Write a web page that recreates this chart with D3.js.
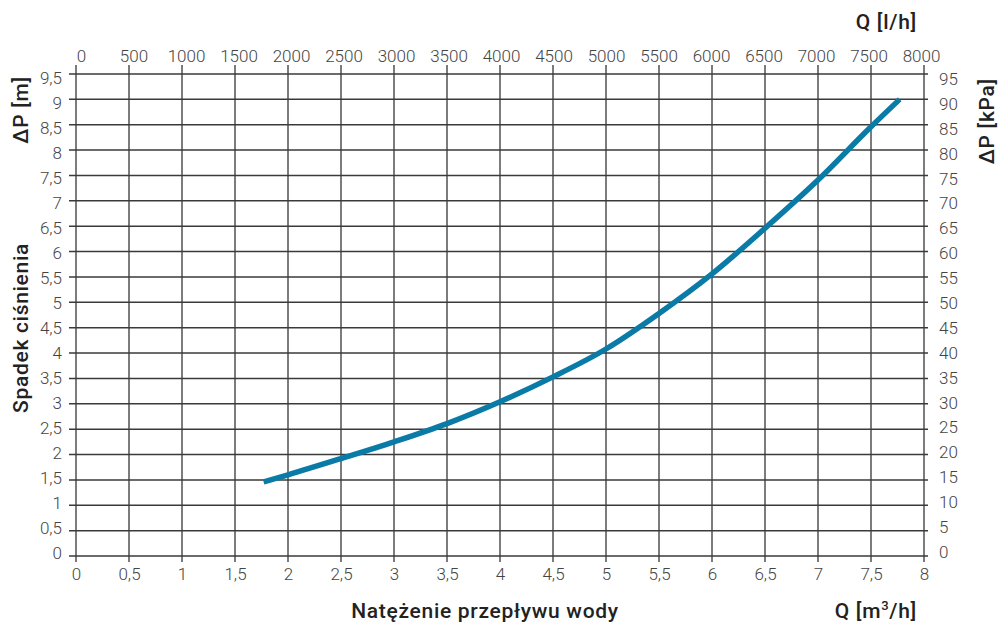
<!DOCTYPE html>
<html><head><meta charset="utf-8">
<script src="https://cdn.jsdelivr.net/npm/d3@7"></script>
<style>
html,body{margin:0;padding:0;background:#fff;}
svg{display:block;}
.tick text{font-family:Roboto,"Liberation Sans",sans-serif;font-weight:300;font-size:17px;fill:#444;}
.title{font-family:Roboto,"Liberation Sans",sans-serif;font-weight:500;font-size:21px;letter-spacing:0.7px;fill:#222;}
</style></head>
<body>
<script>
// Data: flow Q [m3/h] vs pressure drop ΔP [m]
const flowQ = [1.77, 2, 2.5, 3, 3.5, 4, 4.5, 5, 5.5, 6, 6.5, 7, 7.5, 7.77];
const dropM = [1.46, 1.60, 1.92, 2.25, 2.61, 3.04, 3.53, 4.08, 4.78, 5.56, 6.46, 7.41, 8.46, 9.0];
const ticksQ = d3.range(0, 8.01, 0.5);            // bottom axis m3/h
const ticksLh = d3.range(0, 8001, 500);           // top axis l/h
const ticksM = d3.range(0, 9.51, 0.5);            // left axis m
const ticksKPa = d3.range(0, 96, 5);              // right axis kPa
const fmt = v => String(v).replace('.', ',');

const W = 1001, H = 627;
const svg = d3.select("body").append("svg").attr("width", W).attr("height", H);

const x = d3.scaleLinear().domain([0, 8]).range([76, 924]);
const y = d3.scaleLinear().domain([0, 9.5]).range([556, 74]);
const xTop = d3.scaleLinear().domain([0, 8000]).range([81, 921]);
const yLabL = d3.scaleLinear().domain([0, 9.5]).range([553, 78]);
const yLabR = d3.scaleLinear().domain([0, 95]).range([552, 79]);

// grid
const g = svg.append("g");
g.selectAll("line.v").data(ticksQ).join("line").attr("class","v")
  .attr("x1", d => x(d)).attr("x2", d => x(d))
  .attr("y1", 65).attr("y2", 562)
  .attr("stroke", "#6e6e6e").attr("stroke-width", 1.8);
g.selectAll("line.h").data(ticksM).join("line").attr("class","h")
  .attr("x1", 69).attr("x2", 928)
  .attr("y1", d => y(d)).attr("y2", d => y(d))
  .attr("stroke", "#3a3a3a").attr("stroke-width", 1.5);

// axes labels
function clean(sel){ sel.select(".domain").remove(); sel.selectAll(".tick line").remove(); }
svg.append("g").attr("transform","translate(0,556)")
  .call(d3.axisBottom(x).tickValues(ticksQ).tickFormat(fmt).tickSize(0).tickPadding(12))
  .call(clean);
svg.append("g").attr("transform","translate(0,62)")
  .call(d3.axisTop(xTop).tickValues(ticksLh).tickFormat(d => String(d)).tickSize(0).tickPadding(0))
  .call(clean);
svg.append("g").attr("transform","translate(62,0)")
  .call(d3.axisLeft(yLabL).tickValues(ticksM).tickFormat(fmt).tickSize(0).tickPadding(0))
  .call(clean);
svg.append("g").attr("transform","translate(939,0)")
  .call(d3.axisRight(yLabR).tickValues(ticksKPa).tickFormat(d => String(d)).tickSize(0).tickPadding(0))
  .call(clean);
svg.selectAll(".tick text").attr("font-family", null).attr("font-size", null).attr("fill", null);

// curve
const pts = flowQ.map((q, i) => [q, dropM[i]]);
svg.append("path").datum(pts)
  .attr("d", d3.line().x(d => x(d[0])).y(d => y(d[1])).curve(d3.curveMonotoneX))
  .attr("fill", "none").attr("stroke", "#0a7aa6").attr("stroke-width", 5.5);

// titles
svg.append("text").attr("class","title").attr("x", 917).attr("y", 29).attr("text-anchor","end").text("Q [l/h]");
svg.append("text").attr("class","title").attr("x", 917).attr("y", 618).attr("text-anchor","end")
  .html('Q [m<tspan dy="-8" font-size="13">3</tspan><tspan dy="8">/h]</tspan>');
svg.append("text").attr("class","title").attr("x", 485).attr("y", 618).attr("text-anchor","middle").text("Natężenie przepływu wody");
svg.append("text").attr("class","title").attr("transform","translate(28,76) rotate(-90)").attr("text-anchor","end").text("ΔP [m]");
svg.append("text").attr("class","title").attr("transform","translate(28,328) rotate(-90)").attr("text-anchor","middle").text("Spadek ciśnienia");
svg.append("text").attr("class","title").attr("transform","translate(994,78) rotate(-90)").attr("text-anchor","end").text("ΔP [kPa]");
</script>
</body></html>
